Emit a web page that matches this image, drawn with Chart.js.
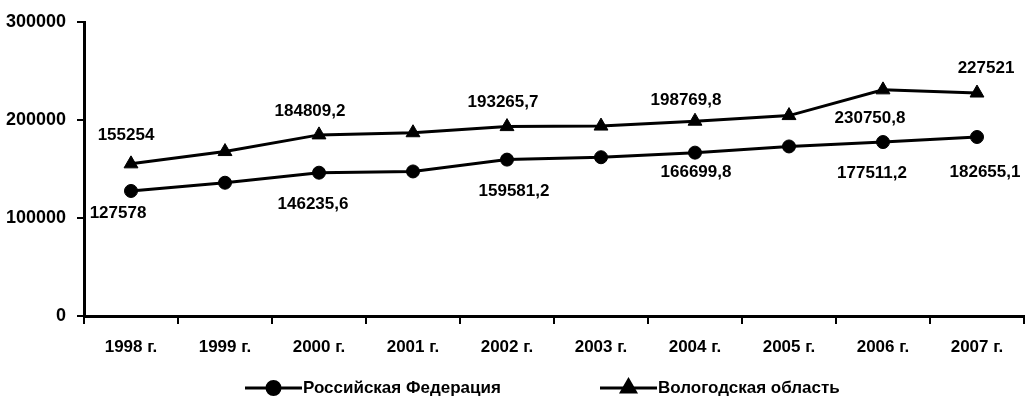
<!DOCTYPE html>
<html lang="ru">
<head>
<meta charset="utf-8">
<script src="https://cdn.jsdelivr.net/npm/chart.js@4/dist/chart.umd.min.js"></script>
<style>
  html, body { margin: 0; padding: 0; background: #fff; }
  #wrap { width: 1033px; height: 400px; }
</style>
</head>
<body>
<div id="wrap"><canvas id="c" width="1033" height="400"></canvas></div>
<script>
// Years on the horizontal axis
const years = ['1998 г.', '1999 г.', '2000 г.', '2001 г.', '2002 г.', '2003 г.', '2004 г.', '2005 г.', '2006 г.', '2007 г.'];

// Series values
const russiaValues  = [127578, 136000, 146235.6, 147500, 159581.2, 162000, 166699.8, 173000, 177511.2, 182655.1];
const vologdaValues = [155254, 167800, 184809.2, 187000, 193265.7, 193800, 198769.8, 204500, 230750.8, 227521];

// Which points carry a value label
const labelledIdx = [0, 2, 4, 6, 8, 9];

// Value-label offsets from the marker centre (dx, dy in px)
const russiaLabelOffsets  = [[-13, 22], [-6, 32], [7, 32], [1, 20], [-11, 31], [8, 35]];
const vologdaLabelOffsets = [[-5, -29], [-9, -24], [-4, -24], [-9, -21], [-13, 28], [9, -25]];

// Y axis tick values
const yTicks = [0, 100000, 200000, 300000];

const seriesNames = ['Российская Федерация', 'Вологодская область'];

const FONT = "'Liberation Sans', Arial, sans-serif";

function fmt(v) { return String(v).replace('.', ','); }

const valueLabels = {
  id: 'valueLabels',
  afterDatasetsDraw(chart) {
    const ctx = chart.ctx;
    ctx.save();
    ctx.fillStyle = '#000';
    ctx.font = 'bold 17px ' + FONT;
    ctx.textAlign = 'center';
    ctx.textBaseline = 'middle';
    const sets = [[0, russiaValues, russiaLabelOffsets], [1, vologdaValues, vologdaLabelOffsets]];
    sets.forEach(([di, vals, offs]) => {
      const meta = chart.getDatasetMeta(di);
      labelledIdx.forEach((i, k) => {
        const p = meta.data[i];
        ctx.fillText(fmt(vals[i]), p.x + offs[k][0], p.y + offs[k][1]);
      });
    });
    ctx.restore();
  }
};

// Legend drawn as line-through-marker samples under the axis
const bottomLegend = {
  id: 'bottomLegend',
  afterDraw(chart) {
    const ctx = chart.ctx;
    const y = 388;
    const items = [
      { x0: 245, x1: 302, style: 'circle', r: 6.5, text: seriesNames[0] },
      { x0: 600, x1: 657, style: 'triangle', r: 8, text: seriesNames[1] }
    ];
    ctx.save();
    items.forEach(it => {
      ctx.strokeStyle = '#000';
      ctx.lineWidth = 3;
      ctx.beginPath();
      ctx.moveTo(it.x0, y);
      ctx.lineTo(it.x1, y);
      ctx.stroke();
      Chart.helpers.drawPoint(ctx, { pointStyle: it.style, radius: it.r, borderWidth: 1 }, (it.x0 + it.x1) / 2, y);
      ctx.fillStyle = '#000';
      ctx.fill();
      ctx.font = 'bold 17px ' + FONT;
      ctx.textAlign = 'left';
      ctx.textBaseline = 'middle';
      ctx.fillText(it.text, it.x1 + 1, y);
    });
    ctx.restore();
  }
};

new Chart(document.getElementById('c'), {
  type: 'line',
  data: {
    labels: years,
    datasets: [
      {
        label: seriesNames[0],
        data: russiaValues,
        borderColor: '#000',
        backgroundColor: '#000',
        borderWidth: 3,
        pointStyle: 'circle',
        pointRadius: 6.5,
        pointBorderWidth: 1,
        tension: 0
      },
      {
        label: seriesNames[1],
        data: vologdaValues,
        borderColor: '#000',
        backgroundColor: '#000',
        borderWidth: 3,
        pointStyle: 'triangle',
        pointRadius: 8,
        pointBorderWidth: 1,
        tension: 0
      }
    ]
  },
  options: {
    responsive: false,
    devicePixelRatio: 1,
    animation: false,
    layout: { padding: { left: 0, top: 22, right: 3, bottom: 0 } },
    plugins: { legend: { display: false }, tooltip: { enabled: false } },
    scales: {
      x: {
        offset: true,
        grid: { offset: true, drawOnChartArea: false, drawTicks: true, tickLength: 8, color: '#000', lineWidth: 2 },
        border: { color: '#000', width: 3 },
        ticks: { color: '#000', font: { family: FONT, size: 17, weight: 'bold' }, padding: 13, maxRotation: 0, autoSkip: false },
        afterFit(s) { s.height = 84; }
      },
      y: {
        min: 0,
        max: 300000,
        afterBuildTicks(s) { s.ticks = yTicks.map(v => ({ value: v })); },
        grid: { drawOnChartArea: false, drawTicks: true, tickLength: 7, color: '#000', lineWidth: 2 },
        border: { color: '#000', width: 3 },
        ticks: { color: '#000', font: { family: FONT, size: 18, weight: 'bold' }, padding: 11, callback: v => String(v) },
        afterFit(s) { s.width = 84; }
      }
    }
  },
  plugins: [valueLabels, bottomLegend]
});
</script>
</body>
</html>
